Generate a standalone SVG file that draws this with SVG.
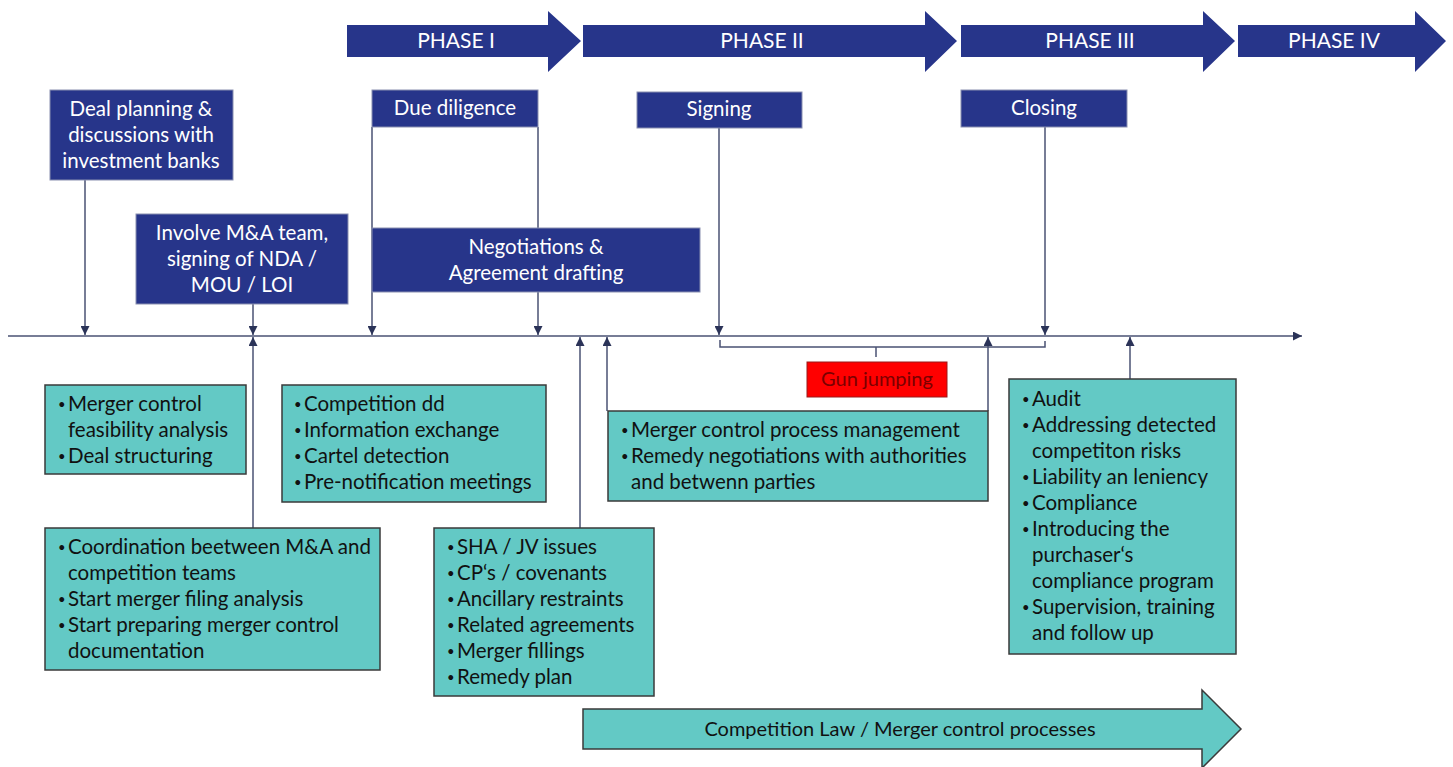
<svg xmlns="http://www.w3.org/2000/svg" width="1453" height="767" viewBox="0 0 1453 767">
<style>
.bg{fill:#ffffff}
.phase{fill:#27358A}
.ptxt{font-family:Lato,"Open Sans",sans-serif;font-size:21px;fill:#ffffff;text-anchor:middle}
.dbox{fill:#27358A;stroke:#8a90b0;stroke-width:1}
.dtxt{font-family:Lato,"Open Sans",sans-serif;font-size:20.5px;fill:#ffffff;text-anchor:middle}
.tbox{fill:#63C9C5;stroke:#3a3a3a;stroke-width:1.5}
.ttxt{font-family:Lato,"Open Sans",sans-serif;font-size:20.5px;fill:#111111}
.b{font-size:13px}
.gbox{fill:#FF0000;stroke:#9a1a1a;stroke-width:1}
.gtxt{font-family:Lato,"Open Sans",sans-serif;font-size:20px;fill:#7a0000;text-anchor:middle}
.conn{fill:none;stroke:#4a5273;stroke-width:1.5}
.ctxt{font-family:Lato,"Open Sans",sans-serif;font-size:20px;fill:#111111;text-anchor:middle}
</style>
<defs>
<marker id="ah" viewBox="0 0 10 10" refX="10" refY="5" markerWidth="9" markerHeight="9" markerUnits="userSpaceOnUse" orient="auto">
<path d="M0,0 L10,5 L0,10 z" fill="#2b3358"/>
</marker>
</defs>
<rect class="bg" x="0" y="0" width="1453" height="767"/>

<g id="phases">
<g id="phase1"><path class="phase" d="M347,25 H548 V11 L581,41 L548,72 V57 H347 z"/><text class="ptxt" x="456" y="48">PHASE I</text></g>
<g id="phase2"><path class="phase" d="M583,25 H925 V11 L957,41 L925,72 V57 H583 z"/><text class="ptxt" x="762" y="48">PHASE II</text></g>
<g id="phase3"><path class="phase" d="M961,25 H1203 V11 L1235,41 L1203,72 V57 H961 z"/><text class="ptxt" x="1090" y="48">PHASE III</text></g>
<g id="phase4"><path class="phase" d="M1238,25 H1415 V11 L1446,41 L1415,72 V57 H1238 z"/><text class="ptxt" x="1334" y="48">PHASE IV</text></g>
</g>

<g id="connectors">
<path class="conn" d="M8,336 H1302" marker-end="url(#ah)"/>
<path class="conn" d="M85,180 V335" marker-end="url(#ah)"/>
<path class="conn" d="M253,304 V335" marker-end="url(#ah)"/>
<path class="conn" d="M372,127 V335" marker-end="url(#ah)"/>
<path class="conn" d="M538,127 V335" marker-end="url(#ah)"/>
<path class="conn" d="M719,128 V335" marker-end="url(#ah)"/>
<path class="conn" d="M1045,127 V335" marker-end="url(#ah)"/>
<path class="conn" d="M253,528 V337" marker-end="url(#ah)"/>
<path class="conn" d="M580,528 V337" marker-end="url(#ah)"/>
<path class="conn" d="M607,411 V337" marker-end="url(#ah)"/>
<path class="conn" d="M988,411 V337" marker-end="url(#ah)"/>
<path class="conn" d="M1130,379 V337" marker-end="url(#ah)"/>
<path class="conn" d="M720,340 V347 H1045 V341"/>
<path class="conn" d="M876,347 V357"/>
</g>

<g id="deal-planning"><rect class="dbox" x="50" y="90" width="183" height="90"/>
<text class="dtxt" x="141" y="116">Deal planning &amp;</text>
<text class="dtxt" x="141" y="142">discussions with</text>
<text class="dtxt" x="141" y="168">investment banks</text></g>

<g id="involve"><rect class="dbox" x="136" y="214" width="212" height="90"/>
<text class="dtxt" x="242" y="240">Involve M&amp;A team,</text>
<text class="dtxt" x="242" y="266">signing of NDA /</text>
<text class="dtxt" x="242" y="292">MOU / LOI</text></g>

<g id="due-diligence"><rect class="dbox" x="372" y="90" width="166" height="37"/>
<text class="dtxt" x="455" y="115">Due diligence</text></g>

<g id="negotiations"><rect class="dbox" x="372" y="228" width="328" height="64"/>
<text class="dtxt" x="536" y="254">Negotiations &amp;</text>
<text class="dtxt" x="536" y="280">Agreement drafting</text></g>

<g id="signing"><rect class="dbox" x="637" y="92" width="165" height="36"/>
<text class="dtxt" x="719" y="116">Signing</text></g>

<g id="closing"><rect class="dbox" x="961" y="90" width="166" height="37"/>
<text class="dtxt" x="1044" y="115">Closing</text></g>

<g id="gun-jumping"><rect class="gbox" x="807" y="362" width="140" height="35"/>
<text class="gtxt" x="877" y="386">Gun jumping</text></g>

<g id="feasibility"><rect class="tbox" x="45" y="385" width="201" height="89"/>
<text class="ttxt"><tspan class="b" x="58" y="409">•</tspan><tspan x="68" y="411">Merger control</tspan><tspan x="68" y="437">feasibility analysis</tspan><tspan class="b" x="58" y="461">•</tspan><tspan x="68" y="463">Deal structuring</tspan></text></g>

<g id="competition-dd"><rect class="tbox" x="282" y="385" width="264" height="117"/>
<text class="ttxt"><tspan class="b" x="294" y="409">•</tspan><tspan x="304" y="411">Competition dd</tspan><tspan class="b" x="294" y="435">•</tspan><tspan x="304" y="437">Information exchange</tspan><tspan class="b" x="294" y="461">•</tspan><tspan x="304" y="463">Cartel detection</tspan><tspan class="b" x="294" y="487">•</tspan><tspan x="304" y="489">Pre-notification meetings</tspan></text></g>

<g id="coordination"><rect class="tbox" x="45" y="528" width="335" height="142"/>
<text class="ttxt"><tspan class="b" x="58" y="552">•</tspan><tspan x="68" y="554">Coordination beetween M&amp;A and</tspan><tspan x="68" y="580">competition teams</tspan><tspan class="b" x="58" y="604">•</tspan><tspan x="68" y="606">Start merger filing analysis</tspan><tspan class="b" x="58" y="630">•</tspan><tspan x="68" y="632">Start preparing merger control</tspan><tspan x="68" y="658">documentation</tspan></text></g>

<g id="sha"><rect class="tbox" x="434" y="528" width="220" height="168"/>
<text class="ttxt"><tspan class="b" x="447" y="552">•</tspan><tspan x="457" y="554">SHA / JV issues</tspan><tspan class="b" x="447" y="578">•</tspan><tspan x="457" y="580">CP‘s / covenants</tspan><tspan class="b" x="447" y="604">•</tspan><tspan x="457" y="606">Ancillary restraints</tspan><tspan class="b" x="447" y="630">•</tspan><tspan x="457" y="632">Related agreements</tspan><tspan class="b" x="447" y="656">•</tspan><tspan x="457" y="658">Merger fillings</tspan><tspan class="b" x="447" y="682">•</tspan><tspan x="457" y="684">Remedy plan</tspan></text></g>

<g id="process-management"><rect class="tbox" x="608" y="411" width="380" height="90"/>
<text class="ttxt"><tspan class="b" x="621" y="435">•</tspan><tspan x="631" y="437">Merger control process management</tspan><tspan class="b" x="621" y="461">•</tspan><tspan x="631" y="463">Remedy negotiations with authorities</tspan><tspan x="631" y="489">and betwenn parties</tspan></text></g>

<g id="audit"><rect class="tbox" x="1009" y="379" width="227" height="275"/>
<text class="ttxt"><tspan class="b" x="1022" y="404">•</tspan><tspan x="1032" y="406">Audit</tspan><tspan class="b" x="1022" y="430">•</tspan><tspan x="1032" y="432">Addressing detected</tspan><tspan x="1032" y="458">competiton risks</tspan><tspan class="b" x="1022" y="482">•</tspan><tspan x="1032" y="484">Liability an leniency</tspan><tspan class="b" x="1022" y="508">•</tspan><tspan x="1032" y="510">Compliance</tspan><tspan class="b" x="1022" y="534">•</tspan><tspan x="1032" y="536">Introducing the</tspan><tspan x="1032" y="562">purchaser‘s</tspan><tspan x="1032" y="588">compliance program</tspan><tspan class="b" x="1022" y="612">•</tspan><tspan x="1032" y="614">Supervision, training</tspan><tspan x="1032" y="640">and follow up</tspan></text></g>

<g id="competition-law"><path class="tbox" d="M583,709 H1202 V690 L1241,729 L1202,768 V749 H583 z" stroke-width="1.2"/>
<text class="ctxt" x="900" y="736">Competition Law / Merger control processes</text></g>
</svg>
